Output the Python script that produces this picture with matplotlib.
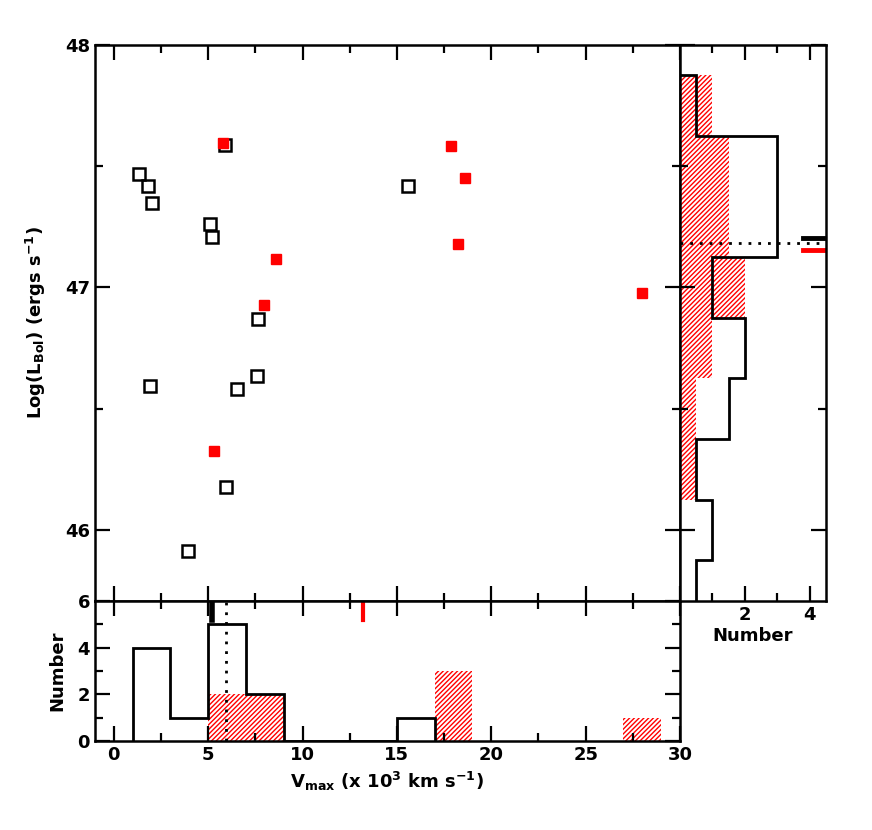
import numpy as np
import matplotlib
matplotlib.use("Agg")
import matplotlib.pyplot as plt

plt.rcParams['font.family'] = 'DejaVu Sans'
plt.rcParams['font.weight'] = 'bold'
plt.rcParams['axes.labelweight'] = 'bold'
plt.rcParams['font.size'] = 13
plt.rcParams['hatch.linewidth'] = 1.0
plt.rcParams['hatch.color'] = 'red'

# scatter data (Vmax in 10^3 km/s, log Lbol)
black_v = [1.36, 1.81, 2.0, 5.09, 5.18, 5.88, 7.66, 7.59, 6.55, 1.94, 5.93, 3.95, 15.57]
black_L = [47.467, 47.42, 47.347, 47.26, 47.21, 47.587, 46.868, 46.636, 46.583, 46.595, 46.179, 45.912, 47.42]
red_v = [5.81, 8.58, 7.98, 5.30, 17.85, 18.6, 18.24, 28.0]
red_L = [47.595, 47.118, 46.929, 46.325, 47.584, 47.45, 47.179, 46.976]

# bottom histogram (bin width 2)
v_edges = [1, 3, 5, 7, 9, 11, 13, 15, 17]
black_v_counts = [4, 1, 5, 2, 0, 0, 0, 1]
red_v_left = [5, 7, 17, 27]
red_v_counts = [2, 2, 3, 1]

# right histogram (bin width 0.25)
L_edges = [45.625, 45.875, 46.125, 46.375, 46.625, 46.875, 47.125, 47.375, 47.625, 47.875]
black_L_counts = [0.5, 1, 0.5, 1.5, 2, 1, 3, 3, 0.5]
red_L_bottom = [46.125, 46.375, 46.625, 46.875, 47.125, 47.375, 47.625]
red_L_counts = [0.5, 0.5, 1, 2, 1.5, 1.5, 1]

# markers
black_v_mark = 5.18
red_v_mark = 13.2
dotted_v = 5.93
black_L_mark = 47.205
red_L_mark = 47.154
dotted_L = 47.184

fig = plt.figure(figsize=(8.72, 8.3), dpi=100)
ax = fig.add_axes([0.1089, 0.2759, 0.6709, 0.6699])
axb = fig.add_axes([0.1089, 0.1072, 0.6709, 0.1687])
axr = fig.add_axes([0.7798, 0.2759, 0.1674, 0.6699])

def style(a):
    for s in a.spines.values():
        s.set_linewidth(1.8)
    a.tick_params(which='both', direction='in', top=True, right=True, width=1.6)
    a.tick_params(which='major', length=11)
    a.tick_params(which='minor', length=6)

# main scatter
ax.plot(black_v, black_L, 's', mfc='none', mec='black', ms=8, mew=1.8, ls='none')
ax.plot(red_v, red_L, 's', mfc='red', mec='red', ms=7, ls='none')
ax.set_xlim(-1, 30)
ax.set_ylim(45.707, 48)
ax.set_xticks(np.arange(0, 31, 5))
ax.set_xticks(np.arange(0, 31, 2.5), minor=True)
ax.set_yticks([46, 47, 48])
ax.set_yticks([46.5, 47.5], minor=True)
ax.set_xticklabels([])
style(ax)
ax.set_ylabel(r'Log(L$_{\mathbf{Bol}}$) (ergs s$^{\mathbf{-1}}$)', labelpad=12)

# bottom histogram
axb.bar(red_v_left, red_v_counts, width=2, align='edge', facecolor='none',
        edgecolor='red', hatch='///////', linewidth=0)
axb.stairs(black_v_counts, v_edges, color='black', lw=2)
axb.plot([black_v_mark, black_v_mark], [6, 5.2], color='black', lw=4)
axb.plot([red_v_mark, red_v_mark], [6, 5.2], color='red', lw=3)
axb.plot([dotted_v, dotted_v], [0, 6], color='black', lw=2, ls=(0, (1, 2.5)))
axb.set_xlim(-1, 30)
axb.set_ylim(0, 6)
axb.set_xticks(np.arange(0, 31, 5))
axb.set_xticks(np.arange(0, 31, 2.5), minor=True)
axb.set_yticks([0, 2, 4, 6])
axb.set_yticks([1, 3, 5], minor=True)
style(axb)
axb.set_xlabel(r'V$_{\mathbf{max}}$ (x 10$^{\mathbf{3}}$ km s$^{\mathbf{-1}}$)')
axb.set_ylabel('Number', labelpad=8)

# right histogram
axr.barh(red_L_bottom, red_L_counts, height=0.25, align='edge', facecolor='none',
         edgecolor='red', hatch='///////', linewidth=0)
axr.stairs(black_L_counts, L_edges, orientation='horizontal', color='black', lw=2)
axr.plot([3.8, 4.5], [black_L_mark, black_L_mark], color='black', lw=3.5)
axr.plot([3.8, 4.5], [red_L_mark, red_L_mark], color='red', lw=3.5)
axr.plot([0, 4.5], [dotted_L, dotted_L], color='black', lw=2, ls=(0, (1, 2.5)))
axr.set_xlim(0, 4.5)
axr.set_ylim(45.707, 48)
axr.set_xticks([2, 4])
axr.set_xticks([1, 3], minor=True)
axr.set_yticks([46, 47, 48])
axr.set_yticks([46.5, 47.5], minor=True)
axr.set_yticklabels([])
style(axr)
axr.set_xlabel('Number', labelpad=2)

fig.savefig('out.png', dpi=100)
